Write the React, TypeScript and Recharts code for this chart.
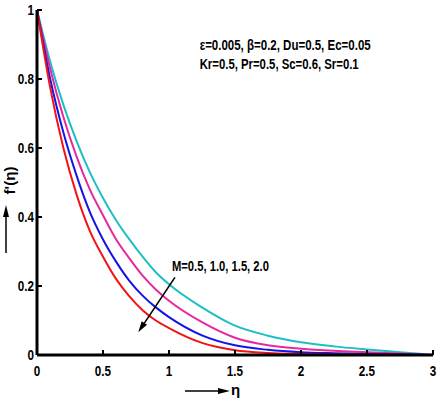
import React from 'react';
import { LineChart, Line, XAxis, YAxis, ReferenceDot, ReferenceLine } from 'recharts';

const FONT = "'Liberation Sans', Arial, Helvetica, sans-serif";
const SQUEEZE = 0.78;

// eta (x) values
const etaValues = [0, 0.1, 0.2, 0.3, 0.4, 0.5, 0.6, 0.7, 0.8, 0.9, 1.0, 1.25, 1.5, 1.75, 2.0, 2.25, 2.5, 2.75, 3.0];
// f'(eta) for M = 0.5, 1.0, 1.5, 2.0
const fpM05 = [1, 0.85, 0.725, 0.62, 0.53, 0.455, 0.39, 0.335, 0.285, 0.24, 0.205, 0.138, 0.085, 0.056, 0.037, 0.025, 0.016, 0.008, 0];
const fpM10 = [1, 0.83, 0.69, 0.575, 0.48, 0.405, 0.335, 0.28, 0.23, 0.19, 0.157, 0.095, 0.05, 0.028, 0.018, 0.012, 0.008, 0.004, 0];
const fpM15 = [1, 0.8, 0.645, 0.52, 0.415, 0.335, 0.27, 0.215, 0.172, 0.138, 0.11, 0.057, 0.028, 0.015, 0.008, 0.005, 0.003, 0.0015, 0];
const fpM20 = [1, 0.775, 0.6, 0.465, 0.36, 0.285, 0.22, 0.17, 0.13, 0.1, 0.078, 0.035, 0.014, 0.006, 0.003, 0.0015, 0.001, 0.0005, 0];

const xTicks = [0, 0.5, 1, 1.5, 2, 2.5, 3];
const yTicks = [0, 0.2, 0.4, 0.6, 0.8, 1];

const paramLine1 = 'ε=0.005, β=0.2, Du=0.5, Ec=0.05';
const paramLine2 = 'Kr=0.5, Pr=0.5, Sc=0.6, Sr=0.1';
const mLabel = 'M=0.5, 1.0, 1.5, 2.0';
const yLabel = "f'(η)";
const xLabel = 'η';

const data = etaValues.map((e, i) => ({
  eta: e,
  m05: fpM05[i],
  m10: fpM10[i],
  m15: fpM15[i],
  m20: fpM20[i],
}));

const arrowHead = (x1: number, y1: number, x2: number, y2: number, len = 10, half = 3.2) => {
  const ang = Math.atan2(y2 - y1, x2 - x1);
  const bx = x2 - len * Math.cos(ang);
  const by = y2 - len * Math.sin(ang);
  const px = -Math.sin(ang) * half;
  const py = Math.cos(ang) * half;
  return {
    bx,
    by,
    points: `${x2},${y2} ${bx + px},${by + py} ${bx - px},${by - py}`,
  };
};

const ArrowShape = (props: any) => {
  const { x1, y1, x2, y2 } = props;
  if ([x1, y1, x2, y2].some((v) => typeof v !== 'number' || isNaN(v))) return <g />;
  const h = arrowHead(x1, y1, x2, y2, 11, 3.2);
  return (
    <g>
      <line x1={x1} y1={y1} x2={h.bx} y2={h.by} stroke="#000" strokeWidth={1.6} />
      <polygon points={h.points} fill="#000" />
    </g>
  );
};

const textStyle = { fontFamily: FONT, fontWeight: 700, fill: '#000' } as const;

const TextAt = (text: string, size: number, width: number) => (props: any) => {
  const vb = props.viewBox || {};
  return (
    <text
      x={vb.x}
      y={vb.y}
      {...textStyle}
      fontSize={size}
      textLength={width}
      lengthAdjust="spacingAndGlyphs"
    >
      {text}
    </text>
  );
};

const RotatedText = (text: string, size: number, width: number) => (props: any) => {
  const vb = props.viewBox || {};
  return (
    <g transform={`translate(${vb.x},${vb.y}) rotate(-90)`}>
      <text
        x={0}
        y={0}
        dy="0.35em"
        textAnchor="middle"
        {...textStyle}
        fontSize={size}
        textLength={width}
        lengthAdjust="spacingAndGlyphs"
      >
        {text}
      </text>
    </g>
  );
};

const XTick = (props: any) => {
  const { x, y, payload } = props;
  return (
    <text
      transform={`translate(${x},${y}) scale(${SQUEEZE},1)`}
      textAnchor="middle"
      dy="0.71em"
      {...textStyle}
      fontSize={15}
    >
      {String(payload.value)}
    </text>
  );
};

const YTick = (props: any) => {
  const { x, y, payload } = props;
  return (
    <text
      transform={`translate(${x},${y}) scale(${SQUEEZE},1)`}
      textAnchor="end"
      dy="0.355em"
      {...textStyle}
      fontSize={15}
    >
      {String(payload.value)}
    </text>
  );
};

const YLabelArrow = (props: any) => {
  const vb = props.viewBox || { x: 0, y: 10, width: 37, height: 345 };
  const ax = vb.x + 6;
  const h = arrowHead(ax, 253, ax, 205, 12, 3);
  return (
    <g>
      <line x1={ax} y1={253} x2={ax} y2={h.by} stroke="#000" strokeWidth={1.5} />
      <polygon points={h.points} fill="#000" />
    </g>
  );
};

const XLabel = (props: any) => {
  const vb = props.viewBox || { x: 37, y: 355, width: 396, height: 47 };
  const x0 = 185;
  const x1 = 230;
  const ay = vb.y + 36;
  const h = arrowHead(x0, ay, x1, ay, 12, 3);
  return (
    <g>
      <line x1={x0} y1={ay} x2={h.bx} y2={ay} stroke="#000" strokeWidth={1.5} />
      <polygon points={h.points} fill="#000" />
      <text x={231} y={vb.y + 40} {...textStyle} fontSize={15}>
        {xLabel}
      </text>
    </g>
  );
};

export default function App() {
  return (
    <div style={{ position: 'absolute', left: 0, top: 0, width: 440, height: 402, background: '#fff' }}>
      <LineChart width={440} height={402} data={data} margin={{ top: 10, right: 7, bottom: 0, left: 0 }}>
        <XAxis
          dataKey="eta"
          type="number"
          domain={[0, 3]}
          ticks={xTicks}
          allowDataOverflow
          height={47}
          tickSize={-5}
          tickMargin={15}
          axisLine={{ stroke: '#000', strokeWidth: 3 }}
          tickLine={{ stroke: '#000', strokeWidth: 2 }}
          tick={XTick}
          label={XLabel}
        />
        <XAxis
          xAxisId="top"
          orientation="top"
          type="number"
          domain={[0, 3]}
          ticks={xTicks}
          allowDataOverflow
          height={0}
          tickSize={-5}
          axisLine={{ stroke: '#000', strokeWidth: 3 }}
          tickLine={{ stroke: '#000', strokeWidth: 2 }}
          tick={false}
        />
        <YAxis
          type="number"
          domain={[0, 1]}
          ticks={yTicks}
          allowDataOverflow
          width={37}
          tickSize={-5}
          tickMargin={8}
          axisLine={{ stroke: '#000', strokeWidth: 3 }}
          tickLine={{ stroke: '#000', strokeWidth: 2 }}
          tick={YTick}
          label={YLabelArrow}
        />
        <YAxis
          yAxisId="right"
          orientation="right"
          type="number"
          domain={[0, 1]}
          ticks={yTicks}
          allowDataOverflow
          width={0}
          tickSize={-5}
          axisLine={{ stroke: '#000', strokeWidth: 3 }}
          tickLine={{ stroke: '#000', strokeWidth: 2 }}
          tick={false}
        />
        <Line type="monotone" dataKey="m05" stroke="#1cbfc4" strokeWidth={2} dot={false} isAnimationActive={false} />
        <Line type="monotone" dataKey="m10" stroke="#e42a9c" strokeWidth={2} dot={false} isAnimationActive={false} />
        <Line type="monotone" dataKey="m15" stroke="#1414e6" strokeWidth={2} dot={false} isAnimationActive={false} />
        <Line type="monotone" dataKey="m20" stroke="#f01414" strokeWidth={2} dot={false} isAnimationActive={false} />
        <ReferenceLine
          segment={[
            { x: 1.045, y: 0.225 },
            { x: 0.767, y: 0.066 },
          ]}
          shape={ArrowShape}
          ifOverflow="visible"
        />
        <ReferenceDot x={1.03} y={0.2406} r={1} fill="none" stroke="none" ifOverflow="visible" label={TextAt(mLabel, 14, 97)} />
        <ReferenceDot x={1.24} y={0.88} r={1} fill="none" stroke="none" ifOverflow="visible" label={TextAt(paramLine1, 14, 171)} />
        <ReferenceDot x={1.24} y={0.8275} r={1} fill="none" stroke="none" ifOverflow="visible" label={TextAt(paramLine2, 14, 159)} />
        <ReferenceDot x={-0.2} y={0.503} r={1} fill="none" stroke="none" ifOverflow="visible" label={RotatedText(yLabel, 15, 28)} />
      </LineChart>
    </div>
  );
}
